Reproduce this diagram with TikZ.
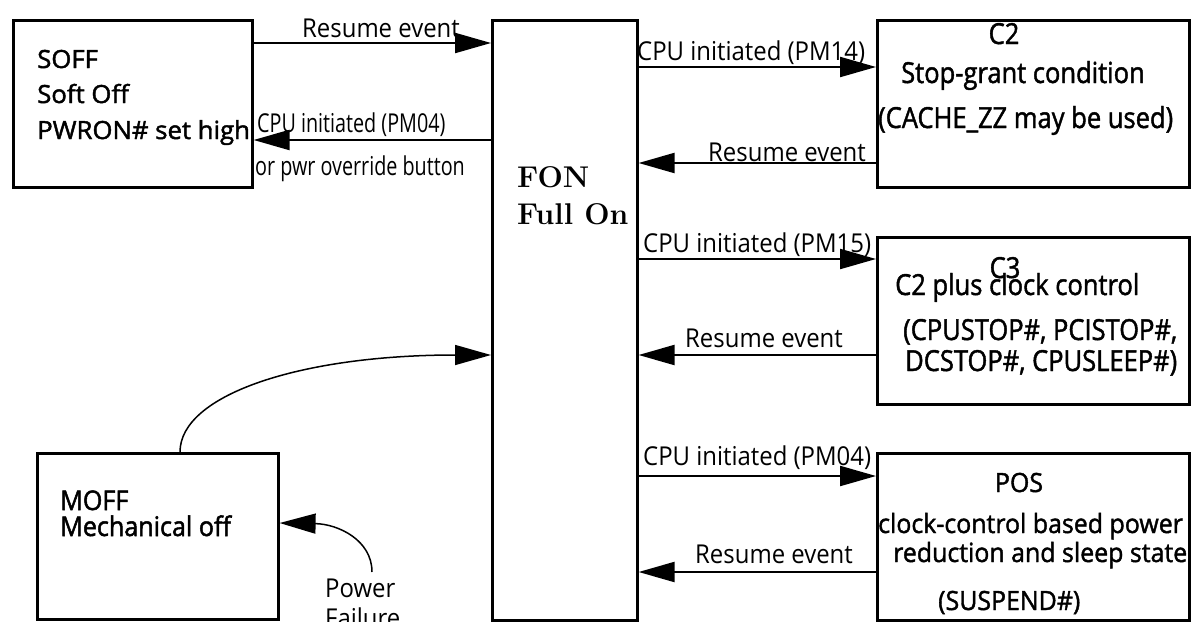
\documentclass[tikz,border=0pt]{standalone}
\usepackage{fontspec}
\usetikzlibrary{arrows.meta}
\newfontfamily\labfont[FakeStretch=0.92]{Open Sans}
\newfontfamily\labnfont[FakeStretch=0.76]{Open Sans}
\newfontfamily\bxfont[FakeBold=1.5,FakeStretch=0.94]{Open Sans}
\newfontfamily\bxcfont[FakeBold=1.5,FakeStretch=0.88]{Open Sans}
\newfontfamily\bxsfont[FakeBold=1.8,FakeStretch=1.03]{Open Sans}
\newfontfamily\bxmfont[FakeBold=1.8,FakeStretch=0.93]{Open Sans}
\tikzset{
  box/.style={draw, line width=2.6pt, rectangle, inner sep=0pt, anchor=north west},
  arr/.style={line width=2.2pt, -{Triangle[length=36pt, width=20pt]}},
  arrc/.style={line width=1.5pt, -{Triangle[length=36pt, width=20pt]}},
  lab/.style={inner sep=0pt, anchor=base west, font=\labfont\fontsize{26}{26}\selectfont},
  labn/.style={inner sep=0pt, anchor=base west, font=\labnfont\fontsize{26}{26}\selectfont},
  btx/.style={inner sep=0pt, anchor=base west, font=\bxfont\fontsize{26.5}{27}\selectfont},
  btc/.style={inner sep=0pt, anchor=base, font=\bxfont\fontsize{26.5}{27}\selectfont},
  bcx/.style={inner sep=0pt, anchor=base west, font=\bxcfont\fontsize{29}{29}\selectfont},
  bcc/.style={inner sep=0pt, anchor=base, font=\bxcfont\fontsize{29}{29}\selectfont},
  bsx/.style={inner sep=0pt, anchor=base west, font=\bxsfont\fontsize{25}{25}\selectfont},
  bmx/.style={inner sep=0pt, anchor=base west, font=\bxmfont\fontsize{27}{27}\selectfont},
  fon/.style={inner sep=0pt, anchor=base west, font=\bfseries\fontsize{30}{30}\selectfont}
}
\begin{document}
\begin{tikzpicture}[x=1pt, y=-1pt]
\useasboundingbox (0,0) rectangle (1191,621);
% boxes
\node[box, minimum width=239pt, minimum height=167pt] (soff) at (12,19) {};
\node[box, minimum width=145pt, minimum height=600pt] (fon) at (491,19) {};
\node[box, minimum width=312pt, minimum height=167pt] (c2) at (876,19) {};
\node[box, minimum width=312pt, minimum height=167pt] (c3) at (876,236) {};
\node[box, minimum width=312pt, minimum height=167pt] (pos) at (876,452) {};
\node[box, minimum width=241pt, minimum height=166pt] (moff) at (36,452) {};
% box texts
\node[bsx] (t1) at (37,68) {SOFF};
\node[bsx] (t2) at (37,103) {Soft Off};
\node[bsx] (t3) at (37,139) {PWRON\# set high};
\node[fon] (t4) at (517,187) {FON};
\node[fon] (t5) at (517,224) {Full On};
\node[bcc] (t6) at (1004,44) {C2};
\node[bcx] (t7) at (901,83) {Stop-grant condition};
\node[bcx] (t8) at (878,128) {(CACHE\_ZZ may be used)};
\node[bcc] (t9) at (1005,278) {C3};
\node[bcx] (t10) at (895,295) {C2 plus clock control};
\node[bcx] (t11) at (903,340) {(CPUSTOP\#, PCISTOP\#,};
\node[bcx] (t12) at (905,371) {DCSTOP\#, CPUSLEEP\#)};
\node[btc] (t13) at (1019,492) {POS};
\node[btx] (t14) at (878,533) {clock-control based power};
\node[btx] (t15) at (893,562) {reduction and sleep state};
\node[btx] (t16) at (938,610) {(SUSPEND\#)};
\node[bmx] (t17) at (60,510) {MOFF};
\node[bmx] (t18) at (60,536) {Mechanical off};
% labels
\node[lab] (l1) at (302,37) {Resume event};
\node[labn] (l2) at (257,132) {CPU initiated (PM04)};
\node[labn] (l3) at (255,175) {or pwr override button};
\node[lab] (l4) at (637,60) {CPU initiated (PM14)};
\node[lab] (l5) at (708,161) {Resume event};
\node[lab] (l6) at (643,252) {CPU initiated (PM15)};
\node[lab] (l7) at (685,347) {Resume event};
\node[lab] (l8) at (643,465) {CPU initiated (PM04)};
\node[lab] (l9) at (695,563) {Resume event};
\node[lab] (l10) at (325,597) {Power};
\node[lab] (l11) at (325,627) {Failure};
% arrows
\draw[arr] (soff.east |- 0,43) -- (fon.west |- 0,43);
\draw[arr] (fon.west |- 0,140) -- (soff.east |- 0,140);
\draw[arr] (fon.east |- 0,67) -- (c2.west |- 0,67);
\draw[arr] (c2.west |- 0,163) -- (fon.east |- 0,163);
\draw[arr] (fon.east |- 0,259) -- (c3.west |- 0,259);
\draw[arr] (c3.west |- 0,355) -- (fon.east |- 0,355);
\draw[arr] (fon.east |- 0,476) -- (pos.west |- 0,476);
\draw[arr] (pos.west |- 0,572) -- (fon.east |- 0,572);
\draw[arrc] (moff.north -| 180,0) .. controls (180,395) and (300,355) .. (fon.west |- 0,355);
\coordinate (pf) at (372,572);
\draw[arrc] (pf) .. controls (372,540) and (338,524) .. (moff.east |- 0,523);
\end{tikzpicture}
\end{document}
